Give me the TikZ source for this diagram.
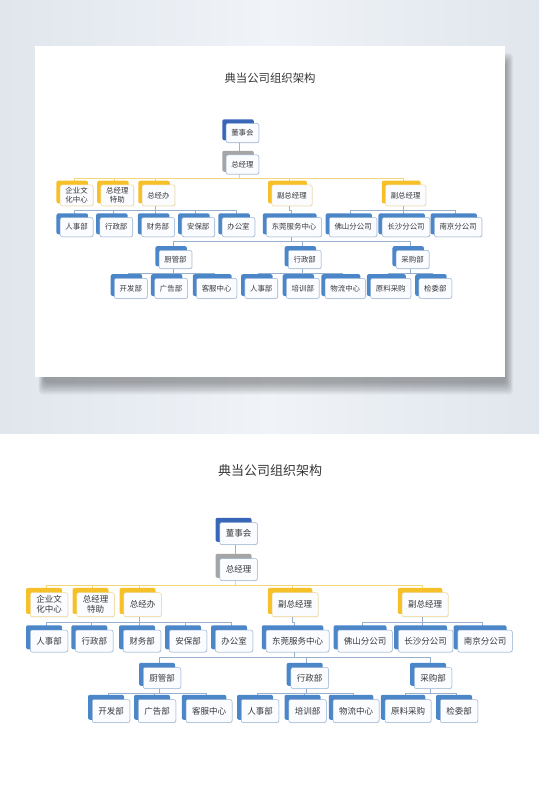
\documentclass[tikz,border=0pt]{standalone}
\usepackage{fontspec}
\usepackage{tikz}
\usetikzlibrary{shadows,calc}
\newfontfamily\cjk{Noto Sans CJK SC}
\definecolor{ink}{RGB}{55,55,55}
\definecolor{tabblue}{RGB}{74,134,200}
\definecolor{tabnavy}{RGB}{58,102,186}
\definecolor{tabgrey}{RGB}{165,165,165}
\definecolor{tabyellow}{RGB}{246,192,40}
\definecolor{edgeblue}{RGB}{150,178,212}
\definecolor{edgeyellow}{RGB}{240,214,140}
\definecolor{wireblue}{RGB}{150,176,206}
\definecolor{wireyellow}{RGB}{243,214,120}
\definecolor{wiregrey}{RGB}{175,175,175}
\definecolor{paper}{RGB}{251,252,255}
\definecolor{mist}{RGB}{224,230,237}
\definecolor{mistlight}{RGB}{240,243,247}
\pgfdeclarelayer{ground}\pgfdeclarelayer{wires}\pgfdeclarelayer{tabs}
\pgfsetlayers{ground,wires,tabs,main}
\tikzset{
  unit/.style={draw=edgeblue,fill=paper,rounded corners=2pt,line width=.5pt,minimum width=37pt,minimum height=22pt,
    inner xsep=6pt,inner ysep=2pt,align=center,text=ink,font=\cjk\fontsize{8.5}{10}\selectfont,
    drop shadow={shadow xshift=.6pt,shadow yshift=-.6pt,opacity=.18}},
  lead/.style={unit,draw=edgeyellow,minimum height=24pt},
  wire/.style={draw=wireblue,line width=.7pt},
  tabfill/.style={rounded corners=2pt,fill=#1}
}
\newcommand{\drawchart}{%
  \node[font=\cjk\fontsize{13}{15}\selectfont,text=ink] (title) at (270,471) {典当公司组织架构};
  \node[unit] (dsh) at (238.5,533.5) {董事会};
  \node[unit] (zjl) at (238.5,569.5) {总经理};
  \foreach \n/\t/\x in {whzx/{企业文\\化中心}/49,tz/{总经理\\特助}/95.5,zjb/总经办/142.5,fz/副总经理/295,fzb/副总经理/425}
    \node[lead] (\n) at (\x,604.7) {\t};
  \foreach \n/\t/\x in {rs/人事部/49,xz/行政部/94.3,cw/财务部/142,ab/安保部/188,bgs/办公室/234,
      dg/东莞服务中心/297.5,fs/佛山分公司/365,cs/长沙分公司/425.5,nj/南京分公司/485}
    \node[unit] (\n) at (\x,641) {\t};
  \foreach \n/\t/\x in {cgb/厨管部/162,xzb/行政部/309.7,cg/采购部/433}
    \node[unit,minimum height=21pt] (\n) at (\x,678) {\t};
  \foreach \n/\t/\x in {kf/开发部/111,gg/广告部/157,kfzx/客服中心/209,rsb/人事部/260,px/培训部/307.5,
      wl/物流中心/356,yl/原料采购/408,jw/检委部/459}
    \node[unit,minimum height=23pt] (\n) at (\x,711) {\t};
  \begin{pgfonlayer}{wires}
  \draw[wire,draw=wiregrey] ([xshift=-3]dsh.south) -- ([xshift=-3]zjl.north);
  \foreach \k in {whzx,tz,zjb,fz,fzb}
    \draw[wire,draw=wireyellow] ([xshift=-3]zjl.south) -- ++(0,5) -| ([xshift=-3]\k.north);
  \foreach \p/\k in {zjb/rs,zjb/xz,zjb/cw,zjb/ab,zjb/bgs,fz/dg,fzb/fs,fzb/cs,fzb/nj,dg/cgb,dg/xzb,dg/cg,
      cgb/kf,cgb/gg,cgb/kfzx,xzb/rsb,xzb/px,xzb/wl,cg/yl,cg/jw}
    \draw[wire] ([xshift=-3]\p.south) -- ++(0,5) -| ([xshift=-3]\k.north);
  \end{pgfonlayer}
  \begin{pgfonlayer}{tabs}
  \foreach \col/\names in {tabnavy/{dsh},tabgrey/{zjl},tabyellow/{whzx,tz,zjb,fz,fzb},
      tabblue/{rs,xz,cw,ab,bgs,dg,fs,cs,nj,cgb,xzb,cg,kf,gg,kfzx,rsb,px,wl,yl,jw}}
    \foreach \n in \names
      \fill[tabfill=\col] ([shift={(-4,-4.5)}]\n.north west) rectangle ([shift={(-6,-3)}]\n.south east);
  \end{pgfonlayer}
}

\begin{document}
\begin{tikzpicture}[x=1pt,y=-1pt]
\useasboundingbox (0,0) rectangle (539,812);
\begin{pgfonlayer}{ground}
\fill[white] (0,0) rectangle (539,812);
\shade[left color=mist,right color=mist,middle color=mistlight] (0,0) rectangle (539,433);
\foreach \s in {0,...,9}
  \fill[black,opacity=.035,rounded corners=4pt] (44-\s*.6,62-\s) rectangle (506+\s*.8,383+\s*1.3);
\fill[white] (35,46) rectangle (505,377);
\end{pgfonlayer}
\begin{scope}[shift={(33.75,-333.75)},scale=.875,transform shape,name prefix=a-]
\drawchart
\end{scope}
\begin{scope}[name prefix=b-]
\drawchart
\end{scope}
\end{tikzpicture}
\end{document}
